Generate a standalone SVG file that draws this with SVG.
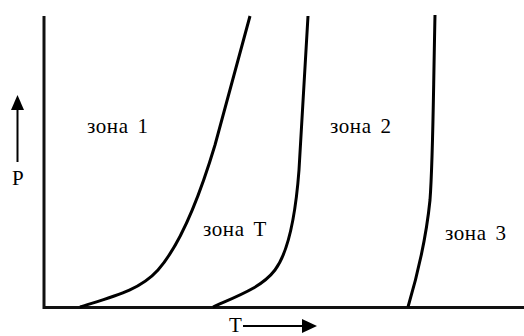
<svg xmlns="http://www.w3.org/2000/svg" width="524" height="336" viewBox="0 0 524 336">
<style>
.ax{stroke:#111;stroke-width:3;fill:none}
.cv{stroke:#000;stroke-width:3;fill:none;stroke-linecap:butt}
.ar{stroke:#000;stroke-width:2;fill:none}
.ah{fill:#000}
text{font-family:"Liberation Serif","DejaVu Serif",serif;font-size:21px;fill:#000}
.z{letter-spacing:0.6px;word-spacing:3px}
</style>
<rect width="524" height="336" fill="#fff"/>
<g id="axes">
<path class="ax" d="M44,16 V307.5 H524"/>
</g>
<g id="curves">
<path id="curve1" class="cv" d="M80,307 C115,296 140,290 158,270 C180,245 200,195 215,145 L250,16"/>
<path id="curve2" class="cv" d="M213,307 C240,295 262,287 275,270 C290,250 296,210 299,170 L308,16"/>
<path id="curve3" class="cv" d="M408,307 C416,280 426,240 430,200 C433,160 433,110 435,15"/>
</g>
<g id="axis-arrows">
<path class="ar" d="M17.5,162 V108"/>
<polygon class="ah" points="17.5,95 11,110 24,110"/>
<path class="ar" d="M243,326 H304"/>
<polygon class="ah" points="317,326 302,319 302,333"/>
</g>
<g id="labels">
<text id="zone1" class="z" x="87" y="132.5">зона 1</text>
<text id="zone2" class="z" x="330" y="132.5">зона 2</text>
<text id="zoneT" class="z" x="203" y="236">зона Т</text>
<text id="zone3" class="z" x="445" y="240">зона 3</text>
<text id="labelP" x="12" y="185">P</text>
<text id="labelT" x="229" y="332">T</text>
</g>
</svg>
